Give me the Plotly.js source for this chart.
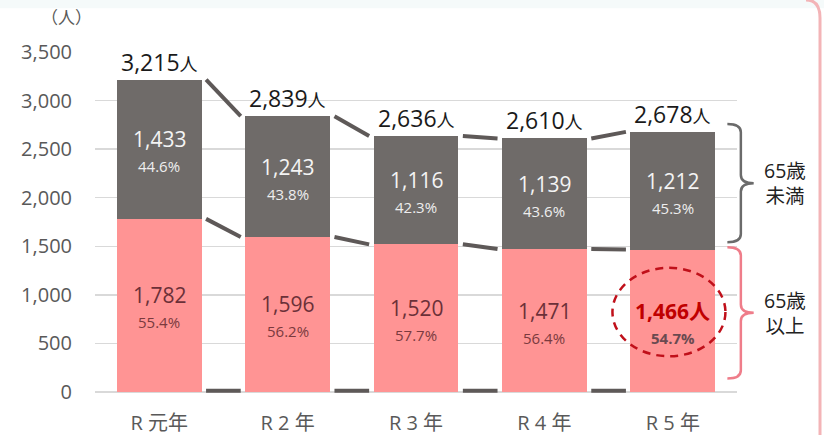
<!DOCTYPE html>
<html><head><meta charset="utf-8">
<script src="https://cdn.plot.ly/plotly-3.0.1.min.js"></script>
<style>html,body{margin:0;padding:0;background:#fff}#chart{width:824px;height:435px}</style>
</head><body><div id="chart"></div>
<script>
// ---- data ----
const categories = ['R 元年', 'R 2 年', 'R 3 年', 'R 4 年', 'R 5 年'];
const over65 = [1782, 1596, 1520, 1471, 1466];      // 65歳以上
const under65 = [1433, 1243, 1116, 1139, 1212];     // 65歳未満
const totals = [3215, 2839, 2636, 2610, 2678];
const over65Pct = ['55.4%', '56.2%', '57.7%', '56.4%', '54.7%'];
const under65Pct = ['44.6%', '43.8%', '42.3%', '43.6%', '45.3%'];
const yTickVals = [0, 500, 1000, 1500, 2000, 2500, 3000, 3500];
const groupLabels = ['65歳<br>未満', '65歳<br>以上'];
const highlightIndex = 4;

// ---- styles ----
const FONT = "'Open Sans', 'Noto Sans CJK JP', sans-serif";
const PINK = '#ff9494';
const GRAY = '#6f6b69';
const LINE = '#5e5958';
const fmt = v => v.toLocaleString('en-US');
const xIdx = categories.map((_, i) => i);

const traces = [
  {type: 'bar', x: xIdx, y: over65, marker: {color: PINK, line: {width: 0}}, hoverinfo: 'skip'},
  {type: 'bar', x: xIdx, y: under65, marker: {color: GRAY, line: {width: 0}}, hoverinfo: 'skip'}
];

const annotations = [];
const shapes = [];
xIdx.forEach(i => {
  const hl = i === highlightIndex;
  // gray segment labels
  const gMid = over65[i] + under65[i] / 2;
  annotations.push({x: i, y: gMid, yshift: 10, text: fmt(under65[i]), showarrow: false,
    font: {family: FONT, size: 21, color: '#f4f4f4'}});
  annotations.push({x: i, y: gMid, yshift: -17, text: under65Pct[i], showarrow: false,
    font: {family: FONT, size: 15, color: '#eeeeee'}});
  // pink segment labels
  const pMid = over65[i] / 2;
  annotations.push({x: i, y: pMid, yshift: 10,
    text: hl ? '<b>' + fmt(over65[i]) + '人</b>' : fmt(over65[i]), showarrow: false,
    font: {family: FONT, size: 21, color: hl ? '#c00000' : '#6b3038'}});
  annotations.push({x: i, y: pMid, yshift: -17,
    text: hl ? '<b>' + over65Pct[i] + '</b>' : over65Pct[i], showarrow: false,
    font: {family: FONT, size: 15, color: hl ? '#6a4a50' : '#7a3a3e'}});
  // totals
  annotations.push({x: i, y: totals[i], yanchor: 'bottom', yshift: 0,
    text: fmt(totals[i]) + '<span style="font-size:18px">人</span>', showarrow: false,
    font: {family: FONT, size: 23, color: '#1a1a1a'}});
  // connectors
  if (i < xIdx.length - 1) {
    const a = i + 0.365, b = i + 1 - 0.365;
    shapes.push({type: 'line', xref: 'x', yref: 'y', x0: a, x1: b, y0: totals[i], y1: totals[i + 1],
      line: {color: LINE, width: 4}});
    shapes.push({type: 'line', xref: 'x', yref: 'y', x0: a, x1: b, y0: over65[i], y1: over65[i + 1],
      line: {color: LINE, width: 4}});
    shapes.push({type: 'line', xref: 'x', yref: 'paper', x0: a, x1: b, y0: 0.004, y1: 0.004,
      line: {color: LINE, width: 4}});
  }
});

// highlight dashed circle around last over-65 label
const hc = over65[highlightIndex] / 2 + 90;
shapes.push({type: 'circle', xref: 'x', yref: 'y',
  x0: highlightIndex - 0.47, x1: highlightIndex + 0.41, y0: hc - 455, y1: hc + 455,
  line: {color: '#c0101a', width: 2.5, dash: '8px,6px'}, fillcolor: 'rgba(0,0,0,0)'});

// braces (paper x, data y)
function brace(yTop, yBot, color) {
  const xa = 0.985, xb = 1.006, xc = 1.026, r = 85;
  const mid = (yTop + yBot) / 2;
  const p = `M ${xa},${yTop} Q ${xb},${yTop} ${xb},${yTop - r} L ${xb},${mid + r} ` +
            `Q ${xb},${mid} ${xc},${mid} Q ${xb},${mid} ${xb},${mid - r} ` +
            `L ${xb},${yBot + r} Q ${xb},${yBot} ${xa},${yBot}`;
  shapes.push({type: 'path', xref: 'paper', yref: 'y', path: p, line: {color: color, width: 2.5}});
  return mid;
}
const last = xIdx.length - 1;
const m1 = brace(totals[last] + 80, over65[last] + 75, '#6b6b6b');
const m2 = brace(over65[last] + 25, 140, '#ef7d8a');
annotations.push({xref: 'paper', yref: 'y', x: 1.074, y: m1, xanchor: 'center', text: groupLabels[0],
  showarrow: false, font: {family: FONT, size: 19.5, color: '#222'}});
annotations.push({xref: 'paper', yref: 'y', x: 1.074, y: m2, xanchor: 'center', text: groupLabels[1],
  showarrow: false, font: {family: FONT, size: 19.5, color: '#222'}});
// unit label
annotations.push({xref: 'paper', yref: 'paper', x: -0.045, y: 1.10, xanchor: 'center', yanchor: 'middle',
  text: '（人）', showarrow: false, font: {family: FONT, size: 17, color: '#595959'}});

// slide frame decorations
shapes.push({type: 'rect', xref: 'paper', yref: 'paper', x0: -0.16, x1: 1.14, y0: 1.129, y1: 1.16,
  line: {width: 0}, fillcolor: '#f5fafa', layer: 'below'});
shapes.push({type: 'path', xref: 'paper', yref: 'paper',
  path: 'M 1.1293,-0.14 L 1.1293,1.10 Q 1.1293,1.153 1.1075,1.153',
  line: {color: '#f3b4b7', width: 3}});

const layout = {
  width: 824, height: 435,
  margin: {l: 95, r: 87, t: 52, b: 43},
  paper_bgcolor: '#ffffff', plot_bgcolor: '#ffffff',
  barmode: 'stack', bargap: 0.34, showlegend: false,
  font: {family: FONT, color: '#595959'},
  xaxis: {range: [-0.5, 4.5], tickvals: xIdx, ticktext: categories, showgrid: false,
    zeroline: false, showline: false, ticks: '', ticklabelstandoff: 17,
    tickfont: {family: FONT, size: 20, color: '#595959'}, fixedrange: true},
  yaxis: {range: [0, 3500], tickvals: yTickVals, ticktext: yTickVals.map(fmt),
    showgrid: true, gridcolor: '#d9d9d9', gridwidth: 1.5,
    zeroline: true, zerolinecolor: '#d9d9d9', zerolinewidth: 1.5,
    showline: false, ticks: '', ticklabelstandoff: 22,
    tickfont: {family: FONT, size: 20, color: '#595959'}, fixedrange: true},
  annotations: annotations,
  shapes: shapes
};

Plotly.newPlot('chart', traces, layout, {staticPlot: true, displayModeBar: false});
</script>
</body></html>
